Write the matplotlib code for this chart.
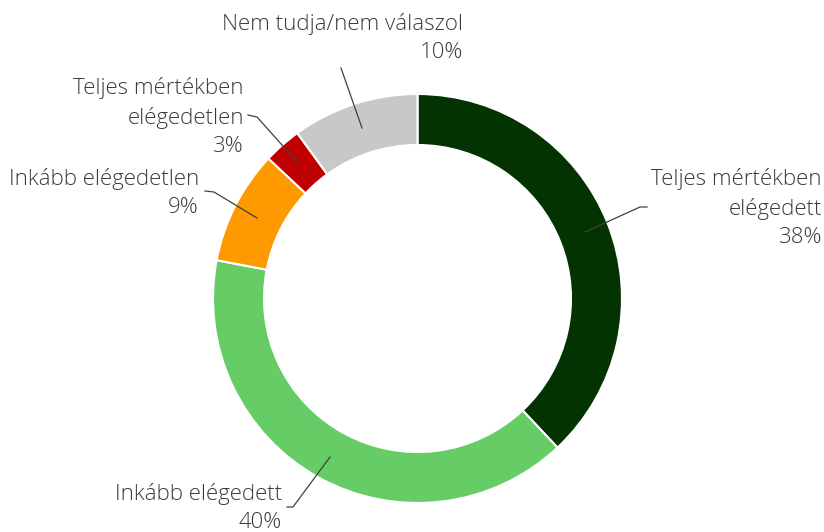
import matplotlib
matplotlib.use("Agg")
import matplotlib.pyplot as plt

W, H = 824, 532

categories = ['Teljes mértékben\nelégedett', 'Inkább elégedett', 'Inkább elégedetlen',
              'Teljes mértékben\nelégedetlen', 'Nem tudja/nem válaszol']
values = [38, 40, 9, 3, 10]
colors = ['#033300', '#66CC66', '#FF9900', '#C00000', '#C8C8C8']

# label block positions (pixel coords, right edge / vertical center) and leader lines
label_pos = [(822, 208), (282, 508), (199, 193), (244, 117), (463, 38)]
leaders = [
    [(647, 207), (640, 207), (585, 232)],
    [(287, 507), (293, 507), (330, 457)],
    [(205, 191), (214, 192), (257, 218)],
    [(248, 115), (257, 117), (299, 164)],
    [(341, 68), (362, 128)],
]

def px(x, y):
    return x, H - y

fig = plt.figure(figsize=(W / 100, H / 100), dpi=100)
ax = fig.add_axes([0, 0, 1, 1])

cx, cy = px(417.5, 298.5)
ax.pie(values, colors=colors, startangle=90, counterclock=False,
       center=(cx, cy), radius=204.5, frame=True,
       wedgeprops=dict(width=51, edgecolor='white', linewidth=1.5))
ax.set_xlim(0, W)
ax.set_ylim(0, H)
ax.set_aspect('equal')
ax.axis('off')

for cat, v, (lx, ly), pts in zip(categories, values, label_pos, leaders):
    ax.text(*px(lx, ly), f'{cat}\n{v}%', ha='right', va='center', multialignment='right',
            fontsize=16, family='Open Sans', fontweight='light', color='#3a3a3a',
            linespacing=1.45)
    xs = [px(*p)[0] for p in pts]
    ys = [px(*p)[1] for p in pts]
    ax.plot(xs, ys, color='#404040', linewidth=0.9)

fig.savefig('out.png', dpi=100)
